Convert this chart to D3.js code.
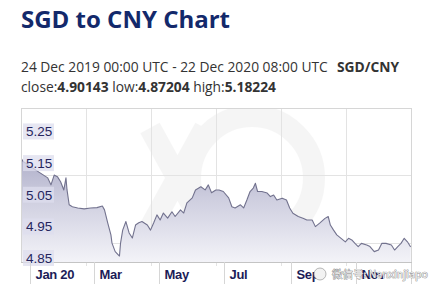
<!DOCTYPE html>
<html>
<head>
<meta charset="utf-8">
<script src="https://cdn.jsdelivr.net/npm/d3@7"></script>
<style>
  body { margin: 0; background: #fff; }
  svg { display: block; }
</style>
</head>
<body>
<div id="chart"></div>
<script>
// SGD -> CNY, 24 Dec 2019 .. 22 Dec 2020
const dates = [
  "2019-12-24","2019-12-26","2020-01-09","2020-01-18","2020-01-21","2020-01-24","2020-01-27","2020-01-30",
  "2020-02-02","2020-02-04","2020-02-05","2020-02-07","2020-02-10","2020-02-15","2020-02-21","2020-02-27",
  "2020-03-04","2020-03-09","2020-03-11","2020-03-14","2020-03-17","2020-03-18","2020-03-21","2020-03-25",
  "2020-03-26","2020-03-28","2020-03-31","2020-04-03","2020-04-06","2020-04-09","2020-04-12","2020-04-15",
  "2020-04-20","2020-04-23","2020-04-26","2020-04-29","2020-05-02","2020-05-05","2020-05-09","2020-05-13",
  "2020-05-16","2020-05-21","2020-05-24","2020-05-27","2020-06-01","2020-06-04","2020-06-09","2020-06-13",
  "2020-06-16","2020-06-19","2020-06-23","2020-06-26","2020-06-30","2020-07-05","2020-07-08","2020-07-11",
  "2020-07-16","2020-07-19","2020-07-22","2020-07-25","2020-07-28","2020-07-30","2020-08-01","2020-08-05",
  "2020-08-10","2020-08-13","2020-08-16","2020-08-19","2020-08-24","2020-08-28","2020-08-31","2020-09-03",
  "2020-09-08","2020-09-13","2020-09-16","2020-09-21","2020-09-24","2020-09-28","2020-10-03","2020-10-06",
  "2020-10-08","2020-10-11","2020-10-14","2020-10-18","2020-10-22","2020-10-25","2020-10-28","2020-10-31",
  "2020-11-03","2020-11-06","2020-11-11","2020-11-14","2020-11-18","2020-11-22","2020-11-25","2020-11-29",
  "2020-12-04","2020-12-07","2020-12-10","2020-12-13","2020-12-16","2020-12-19","2020-12-22"
];
const rates = [
  5.182,5.171,5.139,5.119,5.097,5.128,5.123,5.107,
  5.081,5.119,5.081,5.034,5.028,5.024,5.021,5.024,
  5.025,5.030,5.018,4.977,4.939,4.913,4.886,4.872,
  4.913,4.954,4.981,4.945,4.929,4.970,4.977,4.981,
  4.970,4.954,4.977,5.002,4.986,5.008,4.992,5.012,
  4.997,5.018,5.008,5.040,5.056,5.081,5.091,5.081,
  5.097,5.072,5.081,5.081,5.076,5.056,5.028,5.024,
  5.034,5.024,5.049,5.076,5.087,5.102,5.076,5.076,
  5.071,5.060,5.065,5.049,5.055,5.049,5.024,5.007,
  4.997,4.991,4.986,4.986,4.965,4.976,4.991,4.997,
  4.970,4.954,4.939,4.928,4.917,4.928,4.923,4.912,
  4.902,4.912,4.907,4.902,4.886,4.891,4.912,4.912,
  4.907,4.891,4.902,4.912,4.928,4.917,4.901
];
const yTicks = [4.85, 4.95, 5.05, 5.15, 5.25];
const monthTicks = ["2020-01-01","2020-03-01","2020-05-01","2020-07-01","2020-09-01","2020-11-01"];
const monthLabels = ["Jan 20","Mar","May","Jul","Sep","Nov"];
const statLabels = ["close:", "low:", "high:"];
const statValues = ["4.90143", "4.87204", "5.18224"];

const W = 435, H = 294;
const plot = { left: 21, right: 411, top: 108, bottom: 262 };
const sans = "'Open Sans', sans-serif";

const parse = d3.utcParse("%Y-%m-%d");
const data = dates.map((d, i) => ({ date: parse(d), rate: rates[i] }));

const x = d3.scaleUtc()
  .domain([parse("2019-12-24"), d3.utcParse("%Y-%m-%d %H:%M")("2020-12-22 08:00")])
  .range([plot.left, plot.right]);
const y = d3.scaleLinear()
  .domain([4.85, 5.34])
  .range([263, plot.top]);

const svg = d3.select("#chart").append("svg")
  .attr("width", W).attr("height", H);

// header text
svg.append("text")
  .attr("x", 21).attr("y", 28)
  .attr("font-family", sans)
  .attr("font-weight", 700).attr("font-size", 24)
  .attr("fill", "#13296b")
  .text("SGD to CNY Chart");

svg.append("text")
  .attr("x", 21).attr("y", 72)
  .attr("font-family", sans)
  .attr("font-size", 13.8).attr("fill", "#333")
  .text("24 Dec 2019 00:00 UTC - 22 Dec 2020 08:00 UTC");
svg.append("text")
  .attr("x", 337).attr("y", 72)
  .attr("font-family", sans)
  .attr("font-size", 13.8).attr("font-weight", 700).attr("fill", "#333")
  .text("SGD/CNY");

const st = svg.append("text")
  .attr("x", 21).attr("y", 92)
  .attr("font-family", sans)
  .attr("font-size", 13.8).attr("fill", "#333");
statLabels.forEach((lab, i) => {
  st.append("tspan").text((i ? " " : "") + lab);
  st.append("tspan").attr("font-weight", 700).text(statValues[i]);
});

// gradient for the area
const defs = svg.append("defs");
const grad = defs.append("linearGradient")
  .attr("id", "fillGrad")
  .attr("gradientUnits", "userSpaceOnUse")
  .attr("x1", 0).attr("y1", 150).attr("x2", 0).attr("y2", plot.bottom);
grad.append("stop").attr("offset", 0).attr("stop-color", "#a9a9c5");
grad.append("stop").attr("offset", 0.45).attr("stop-color", "#cfcfe0");
grad.append("stop").attr("offset", 1).attr("stop-color", "#f3f3f8");

defs.append("clipPath").attr("id", "plotClip")
  .append("rect")
  .attr("x", plot.left).attr("y", plot.top)
  .attr("width", plot.right - plot.left).attr("height", plot.bottom - plot.top);

// faint xe watermark
const wm = svg.append("g").attr("opacity", 0.05).attr("clip-path", "url(#plotClip)");
wm.append("circle").attr("cx", 252).attr("cy", 178).attr("r", 62)
  .attr("fill", "none").attr("stroke", "#555").attr("stroke-width", 22);
wm.append("path").attr("d", "M150,128 L205,228 M205,128 L150,228")
  .attr("stroke", "#555").attr("stroke-width", 22);

// grid
const grid = svg.append("g").attr("stroke", "#e3e3e3").attr("stroke-width", 1);
const colW = (plot.right - plot.left) / 6;
d3.range(1, 6).forEach(i => {
  const gx = Math.round(plot.left + i * colW) + 0.5;
  grid.append("line").attr("x1", gx).attr("x2", gx).attr("y1", plot.top).attr("y2", plot.bottom + 4);
});
[175.5, 243.5].forEach(gy => {
  grid.append("line").attr("x1", plot.left).attr("x2", plot.right).attr("y1", gy).attr("y2", gy);
});

// area + line
const area = d3.area()
  .x(d => x(d.date)).y0(plot.bottom).y1(d => y(d.rate));
const line = d3.line()
  .x(d => x(d.date)).y(d => y(d.rate));

svg.append("path")
  .datum(data)
  .attr("clip-path", "url(#plotClip)")
  .attr("fill", "url(#fillGrad)")
  .attr("d", area);

svg.append("path")
  .datum(data)
  .attr("clip-path", "url(#plotClip)")
  .attr("fill", "none")
  .attr("stroke", "#72728e")
  .attr("stroke-width", 1.1)
  .attr("stroke-linejoin", "round")
  .attr("d", line);

// frame
const frame = svg.append("g").attr("stroke", "#d6d6d6").attr("fill", "none");
frame.append("line").attr("x1", plot.left + 0.5).attr("x2", plot.left + 0.5).attr("y1", plot.top).attr("y2", plot.bottom);
frame.append("line").attr("x1", plot.right + 0.5).attr("x2", plot.right + 0.5).attr("y1", plot.top).attr("y2", plot.bottom + 22);
frame.append("line").attr("x1", plot.left).attr("x2", plot.right).attr("y1", plot.top + 0.5).attr("y2", plot.top + 0.5);
frame.append("line").attr("x1", plot.left).attr("x2", plot.right + 1).attr("y1", plot.bottom + 0.5).attr("y2", plot.bottom + 0.5)
  .attr("stroke", "#c4c4c4");

// y labels with light boxes
const yl = svg.append("g").selectAll("g").data(yTicks).join("g");
yl.append("rect")
  .attr("x", 23).attr("y", d => y(d) - 13)
  .attr("width", 31).attr("height", 16)
  .attr("fill", "#dedeed").attr("opacity", 0.75);
yl.append("text")
  .attr("x", 26).attr("y", d => y(d))
  .attr("font-family", "'Liberation Sans', Arial, sans-serif")
  .attr("font-size", 13.5).attr("fill", "#25255e")
  .text(d => d.toFixed(2));

// month ticks + labels
const xt = svg.append("g").selectAll("g").data(monthTicks).join("g")
  .attr("transform", d => `translate(${Math.round(x(parse(d))) + 0.5},0)`);
xt.append("line")
  .attr("y1", plot.bottom).attr("y2", plot.bottom + 22)
  .attr("stroke", "#d6d6d6");
xt.append("text")
  .attr("x", 5).attr("y", 279)
  .attr("font-family", "'Liberation Sans', Arial, sans-serif")
  .attr("font-weight", 700).attr("font-size", 13)
  .attr("letter-spacing", -0.3)
  .attr("fill", "#1c1c58")
  .text((d, i) => monthLabels[i]);

// social-account watermark over the corner
svg.append("circle").attr("cx", 320).attr("cy", 274).attr("r", 6)
  .attr("fill", "#f2f2f2").attr("stroke", "#8a8a8a").attr("stroke-width", 0.6);
svg.append("text")
  .attr("x", 332).attr("y", 278)
  .attr("font-family", "'Noto Sans CJK SC', sans-serif")
  .attr("font-size", 10.5)
  .attr("fill", "#f2f2f2").attr("stroke", "#7a7a7a").attr("stroke-width", 0.7)
  .attr("paint-order", "stroke")
  .text("微信号: Nanxinjiapo");
</script>
</body>
</html>
